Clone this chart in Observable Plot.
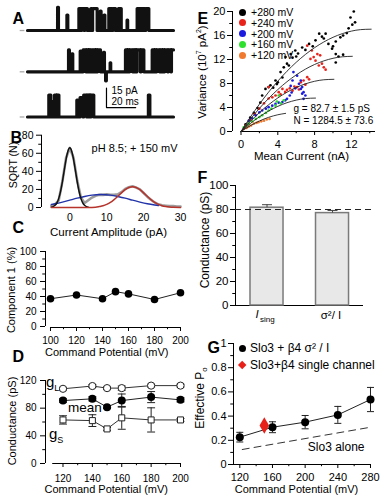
<!DOCTYPE html>
<html><head><meta charset="utf-8">
<script src="https://cdn.jsdelivr.net/npm/d3@7"></script>
<script src="https://cdn.jsdelivr.net/npm/@observablehq/plot@0.6"></script>
<style>
html,body{margin:0;padding:0;background:#fff;}
#fig{position:relative;width:384px;height:500px;overflow:hidden;font-family:'Liberation Sans',Arial,sans-serif;color:#000;}
#fig svg{position:absolute;left:0;top:0;}
.lab{position:absolute;white-space:nowrap;line-height:1;}
.lab sub,.lab sup{line-height:0;}
</style></head><body><div id="fig"></div>
<script>
// ================= DATA =================
// A: single-channel openings [start ms, end ms, level pA]
const trace1Events = [[20.6,21.2,18],[27.0,27.6,12],[35.2,36.6,17],[37.0,38.8,17],[39.2,41.0,17],[41.6,43.0,16],[43.4,44.0,17],[44.6,47.7,17],[49.8,50.4,15],[52.5,53.0,12],[55.7,57.0,17],[57.4,58.0,17],[58.5,60.3,17],[62.3,63.2,17],[63.6,64.2,17],[68.2,68.6,8],[75.1,76.4,17],[76.8,77.5,17],[78.0,79.6,17],[80.0,80.5,17],[81.0,83.1,17]];
const trace2Events = [[28.1,28.7,17],[30.4,31.0,14],[36.1,36.8,16],[38.1,40.0,17],[40.5,41.5,17],[41.9,42.5,17],[43.0,44.5,17],[45.2,46.3,17],[46.7,47.5,17],[48.0,50.0,17],[52.1,52.7,15],[53.5,54.0,-7],[56.6,57.0,7],[67.1,68.2,17],[68.6,69.5,17],[70.0,72.0,17],[72.6,73.5,17],[73.9,74.5,17],[75.0,77.3,17],[77.8,79.7,17],[85.4,86.8,17],[87.2,88.0,17],[88.5,90.5,17],[91.0,92.2,17],[92.6,93.5,17],[94.0,96.0,17],[96.5,98.2,17],[98.6,100,17]];
const trace3Events = [[14.6,16.0,17],[16.5,17.5,12],[18.5,19.8,17],[20.2,21.5,17],[33.8,34.4,13],[36.0,38.0,15],[38.5,40.5,17],[41.0,42.0,17],[42.4,43.0,17],[43.5,45.4,17],[82.8,83.8,17]];
const traceOffsets = [0, -32, -67];
const scaleBar = {t0: 54.1, v0: -59.7, pA: 15, ms: 20};

// B: amplitude histogram and Gaussian fits
const bHistX = [-5,-4,-3,-2,-1,0,1,2,3,4,5,6,7,8,9,10,11,12,13,14,15,16,17,18,19,20,21,22,23,24,25,26,27,28,29,30];
const bHistY = [2,3.5,8,29,55,66,55,30,11,5,8,11,13,14,14,14.5,14,14,14.5,17,20.5,22.5,23.5,22,20,16,12,8.5,5.5,3.5,2.5,2,1.5,1.5,1,1];
const bBlackX = [-5,-4.5,-4,-3.5,-3,-2.5,-2,-1.5,-1,-0.5,0,0.5,1,1.5,2,2.5,3,3.5,4,4.5,5];
const bBlackY = [0.36,0.97,2.4,5.1,10.1,17.9,28.7,41.3,53.6,62.6,66,62.6,53.6,41.3,28.7,17.9,10.1,5.1,2.4,0.97,0.36];
const bBlueX = [-5,-4,-2,0,2,4,6,8.5,11,13,15,17,19,21,23,24];
const bBlueY = [3.3,4.1,6.0,8.1,10.3,12.2,13.7,14.4,13.7,12.2,10.3,8.1,6.0,4.1,2.7,2.1];
const bRedX = [-5,0,5,7,8,9,10,11,12,13,14,15,16,17,18,19,20,21,22,23,24,25,26,27,28,30];
const bRedY = [0,0,0,0.3,1.0,1.9,3.5,5.7,8.8,12.4,16.2,19.7,22.1,23,22.1,19.7,16.2,12.4,8.8,5.7,3.5,1.9,1.0,0.5,0.2,0];

// C: component 1 (%)
const cVolt = [100,120,140,150,160,180,200];
const cComp1 = [37,42,37,46.5,43.5,36,45];

// D: conductances (pS)
const dVolt = [120,140,150,160,180,200];
const dGL = [108,112,109,109,112.6,112.6];
const dGLErr = [2,2,2,3,2,2];
const dMean = [91,93.5,81.5,91,96,92];
const dMeanErr = [2.5,3,2,9.5,8,3];
const dGS = [63,62,50,66,63,63];
const dGSErr = [6,8.5,2,16.5,17.5,2];

// E: variance vs mean current
const eSeries = ["+280 mV","+240 mV","+200 mV","+160 mV","+120 mV"];
const eColors = ["#000000","#e8231c","#1c1ce0","#2fe02f","#f07a30"];
const ePts280 = [[0.5,1.2],[1,2.3],[1.4,3.1],[1.8,3.9],[2.1,4.8],[2.3,6.0],[2.66,7.1],[3.0,7.4],[3.2,7.7],[3.5,7.3],[3.75,8.5],[3.9,7.9],[4.0,8.2],[4.3,9.9],[4.5,9.0],[4.65,10.7],[4.84,12.4],[5.0,11.3],[5.2,11.0],[5.4,12.9],[5.6,12.3],[5.9,13.5],[6.0,12.5],[6.2,13.0],[6.65,14.0],[7.0,13.6],[7.4,14.6],[7.8,14.2],[8.1,15.2],[8.5,16.3],[8.8,15.8],[9.0,15.5],[9.2,16.3],[9.5,14.6],[9.9,13.8],[10.0,14.2],[10.3,12.9],[10.3,11.5],[10.6,12.5],[10.3,15.0],[10.8,15.7],[11.1,12.8],[11.1,16.0],[11.5,16.4],[11.7,17.2],[11.9,19.0],[12.1,17.8],[12.26,20.0],[12.4,18.2]];
const ePts240 = [[0.5,1.0],[1.0,1.9],[1.5,2.9],[2.0,3.8],[2.5,4.7],[3.0,5.5],[3.0,7.4],[3.4,5.7],[3.75,6.0],[4.1,6.55],[4.3,6.2],[4.5,7.1],[4.8,6.6],[5.0,6.95],[5.3,7.2],[5.6,6.8],[5.8,7.5],[6.1,7.4],[6.3,7.0],[6.5,8.2],[6.8,8.5],[7.0,7.8],[7.2,9.05],[7.4,8.7],[7.2,14.3],[7.55,12.1],[7.7,13.5],[7.9,12.4],[8.1,11.8],[8.3,12.9],[8.46,11.0],[8.6,12.7],[8.8,11.3],[9.0,10.7],[9.2,10.3]];
const ePts200 = [[0.4,0.6],[0.85,1.8],[1.2,2.2],[1.6,2.7],[2.0,3.2],[2.3,3.5],[2.7,3.8],[3.0,4.05],[3.4,4.3],[3.75,4.6],[4.1,4.8],[4.5,4.9],[4.8,5.2],[5.0,5.45],[5.3,6.0],[5.4,7.6],[5.5,6.5],[5.6,8.5],[5.7,9.9],[5.9,7.2],[6.1,9.3],[6.3,7.95],[6.5,7.1],[6.5,8.5],[6.65,6.3],[6.65,7.4],[6.8,5.45],[6.8,6.55],[7.0,6.0]];
const ePts160 = [[0.3,0.7],[0.6,1.0],[0.85,1.3],[1.2,1.7],[1.6,2.1],[2.0,2.4],[2.3,2.7],[2.7,3.1],[3.0,3.5],[3.3,3.8],[3.75,4.3],[3.9,5.0],[4.1,6.0],[4.3,4.7],[4.65,5.2]];
const ePts120 = [[0.3,0.4],[0.6,0.6],[0.85,0.83],[1.1,1.0],[1.4,1.3],[1.7,1.45],[1.9,1.55],[2.2,1.7],[2.5,1.8],[2.8,2.0],[3.1,2.1]];
const eFit280 = [[0,0],[1,2.36],[2,4.55],[3,6.56],[4,8.39],[5,10.05],[6,11.53],[7,12.84],[8,13.97],[9,14.92],[10,15.7],[11,16.3],[12,16.73],[13,16.98],[14.15,17.05]];
const eFit240 = [[0,0],[1,2.01],[2,3.85],[3,5.51],[4,6.99],[5,8.3],[6,9.43],[7,10.39],[8,11.17],[9,11.77],[10,12.2],[11,12.45],[12.1,12.53]];
const eFit200 = [[0,0],[1,1.66],[2,3.15],[3,4.46],[4,5.59],[5,6.55],[6,7.33],[7,7.94],[8,8.37],[9,8.62],[10.1,8.7]];
const eFit160 = [[0,0],[1,1.31],[2,2.45],[3,3.41],[4,4.19],[5,4.8],[6,5.23],[7,5.49],[8.1,5.57]];
const eFit120 = [[0,0],[1,0.96],[2,1.75],[3,2.36],[4,2.79],[4.85,3.02]];

// F: conductance estimates
const fCats = ["I_sing","σ²/I"];
const fCond = [81.5, 77.0];
const fCondErr = [2.5, 2.2];
const fRef = 80;

// G: effective Po
const gVolt = [120,160,200,240,280];
const gPo = [0.226,0.308,0.35,0.41,0.537];
const gPoErr = [0.04,0.045,0.055,0.07,0.10];
const gSingleVolt = [150];
const gSinglePo = [0.322];
const gAloneVolt = [123,280];
const gAlonePo = [0.124,0.308];

// ================= HELPERS =================
const FONT = "'Liberation Sans', Arial, sans-serif";
const fig = document.getElementById("fig");
function frame(l, r, t, b, fs) {
  return {width:384, height:500, marginLeft:l, marginRight:384-r, marginTop:t, marginBottom:500-b,
    style:{background:"transparent", fontFamily:FONT, fontSize:fs+"px", color:"#000", overflow:"visible"}};
}
function add(p){ fig.appendChild(p); }
function lab(html, x, y, o={}) {
  const d = document.createElement("div");
  d.className = "lab"; d.innerHTML = html;
  d.style.left = x+"px"; d.style.top = y+"px";
  d.style.fontSize = (o.size||11)+"px";
  if (o.weight) d.style.fontWeight = o.weight;
  if (o.italic) d.style.fontStyle = "italic";
  const tx = o.anchor === "left" ? "0" : "-50%";
  d.style.transform = `translate(${tx},-50%)` + (o.rot ? " rotate(-90deg)" : "");
  fig.appendChild(d);
}
function swatch(x, y, color, shape) {
  const d = document.createElement("div");
  d.style.position = "absolute";
  const s = shape === "diamond" ? 6.4 : 7;
  d.style.width = s+"px"; d.style.height = s+"px"; d.style.background = color;
  d.style.left = (x - s/2)+"px"; d.style.top = (y - s/2)+"px";
  if (shape === "diamond") d.style.transform = "rotate(45deg)"; else d.style.borderRadius = "50%";
  fig.appendChild(d);
}
function yAxes(major, minor, size, pad, fmt) {
  return [
    Plot.axisY({ticks:major, tickSize:size, tickPadding:pad, label:null, anchor:"left", tickFormat: fmt || (d => String(d))}),
    Plot.axisY({ticks:minor, tickSize:size*0.55, label:null, anchor:"left", tickFormat: () => ""})
  ];
}
function xAxes(major, minor, size, pad) {
  return [
    Plot.axisX({ticks:major, tickSize:size, tickPadding:pad, label:null, anchor:"bottom", tickFormat: d => String(d)}),
    Plot.axisX({ticks:minor, tickSize:size*0.55, label:null, anchor:"bottom", tickFormat: () => ""})
  ];
}
function letter(t, dx, dy) {
  return Plot.text([t], {text: d => d, frameAnchor:"top-left", dx, dy, fontSize:16, fontWeight:"bold"});
}
const pts = (xs, ys) => xs.map((x,i)=>({x, y:ys[i]}));
const pairs = a => a.map(([x,y])=>({x,y}));

// ================= PANEL A =================
function stepPoints(events, off, k) {
  const p = [{t:0, v:off, k}];
  for (const [t0,t1,L] of events) {
    p.push({t:t0,v:off,k},{t:t0,v:off+L,k},{t:t1,v:off+L,k});
    if (t1 < 100) p.push({t:t1,v:off,k});
  }
  if (p[p.length-1].t < 100) p.push({t:100, v:off, k});
  return p;
}
const tracePts = [trace1Events, trace2Events, trace3Events].flatMap((ev,k)=>stepPoints(ev, traceOffsets[k], k));
const sb = scaleBar;
add(Plot.plot({...frame(27,173,0,125,10),
  x:{domain:[0,100], axis:null}, y:{domain:[-73.6,23.26], axis:null},
  marks:[
    Plot.ruleY(traceOffsets, {x1:-5, x2:-1.8, stroke:"#aaa", strokeWidth:1.3}),
    Plot.line(tracePts, {x:"t", y:"v", z:"k", stroke:"#111", strokeWidth:3.2}),
    Plot.line([{t:sb.t0,v:sb.v0+sb.pA},{t:sb.t0,v:sb.v0},{t:sb.t0+sb.ms,v:sb.v0}], {x:"t", y:"v", stroke:"#000", strokeWidth:1.2}),
    Plot.text([sb.pA+" pA"], {text:d=>d, x:sb.t0, y:sb.v0+sb.pA, dx:5, dy:2.5, textAnchor:"start", fontSize:10}),
    Plot.text([sb.ms+" ms"], {text:d=>d, x:sb.t0, y:sb.v0, dx:5, dy:-5.5, textAnchor:"start", fontSize:10}),
    letter("A", -15, 12)
  ]}));

// ================= PANEL B =================
const bX0 = -7.67, bX1 = 31.08;
add(Plot.plot({...frame(41,184,134.7,207,10.5),
  x:{domain:[bX0,bX1]}, y:{domain:[0,80]},
  marks:[
    Plot.ruleX([bX0], {y1:0, y2:80, stroke:"#000"}),
    ...yAxes([0,20,40,60,80],[10,30,50,70],5,3),
    Plot.axisX({ticks:[0,10,20,30], tickSize:0, tickPadding:6.5, label:null, tickFormat:d=>String(d)}),
    Plot.line(pts(bHistX,bHistY), {x:"x", y:"y", stroke:"#9c9c9c", strokeWidth:2.6}),
    Plot.line(pts(bBlueX,bBlueY), {x:"x", y:"y", stroke:"#2233aa", strokeWidth:1.4, curve:"natural"}),
    Plot.line(pts(bBlackX,bBlackY), {x:"x", y:"y", stroke:"#111", strokeWidth:1.5, curve:"natural"}),
    Plot.line(pts(bRedX,bRedY), {x:"x", y:"y", stroke:"#b5332b", strokeWidth:1.5, curve:"monotone-x"}),
    Plot.text(["pH 8.5; + 150 mV"], {text:d=>d, frameAnchor:"top-right", textAnchor:"end", dx:-7, dy:9, fontSize:11}),
    Plot.text(["Current Amplitude (pA)"], {text:d=>d, frameAnchor:"bottom", dx:-4.5, dy:28, fontSize:11.5}),
    letter("B", -31, -3.7)
  ]}));
lab('SQRT (N)', 13, 165, {rot:true, size:10.5});

// ================= PANEL C =================
const cX0 = 96.154, cX1 = 201.15, cY0 = -1.333, cY1 = 101.333;
add(Plot.plot({...frame(45,181.5,250,327,10),
  x:{domain:[cX0,cX1]}, y:{domain:[cY0,cY1]},
  marks:[
    Plot.ruleX([cX0], {y1:0, y2:100, stroke:"#000"}),
    Plot.ruleY([cY0], {x1:100, x2:200, stroke:"#000"}),
    ...yAxes([0,20,40,60,80,100],[10,30,50,70,90],5,4),
    ...xAxes([100,120,140,160,180,200],[110,130,150,170,190],4,5),
    Plot.line(pts(cVolt,cComp1), {x:"x", y:"y", stroke:"#222", strokeWidth:1}),
    Plot.dot(pts(cVolt,cComp1), {x:"x", y:"y", r:3.8, fill:"#000"}),
    Plot.text(["Command Potential (mV)"], {text:d=>d, frameAnchor:"bottom", dx:-7, dy:28, fontSize:11}),
    letter("C", -33, -29)
  ]}));
lab('Component 1 (%)', 11, 290, {rot:true, size:11});

// ================= PANEL D =================
const dX0 = 108.09, dX1 = 201.36;
const dRows = (ys, es) => dVolt.map((x,i)=>({x, y:ys[i], e:es[i]}));
const dL = dRows(dGL,dGLErr), dM = dRows(dMean,dMeanErr), dS = dRows(dGS,dGSErr);
const capD = 2.7;
const errMarks = (rows, cap) => [
  Plot.ruleX(rows, {x:"x", y1:d=>d.y-d.e, y2:d=>d.y+d.e, stroke:"#222", strokeWidth:1}),
  Plot.link(rows, {x1:d=>d.x-cap, x2:d=>d.x+cap, y1:d=>d.y+d.e, y2:d=>d.y+d.e, stroke:"#222"}),
  Plot.link(rows, {x1:d=>d.x-cap, x2:d=>d.x+cap, y1:d=>d.y-d.e, y2:d=>d.y-d.e, stroke:"#222"})
];
add(Plot.plot({...frame(45,182,378,463,10),
  x:{domain:[dX0,dX1]}, y:{domain:[0,122.9]},
  marks:[
    Plot.ruleX([dX0], {y1:0, y2:120, stroke:"#000"}),
    Plot.ruleY([0], {x1:113, x2:200, stroke:"#000"}),
    ...yAxes([0,40,80,120],[20,60,100],5,4),
    ...xAxes([120,140,160,180,200],[130,150,170,190],4,7),
    Plot.line(dL, {x:"x", y:"y", stroke:"#333", strokeWidth:1}),
    Plot.line(dM, {x:"x", y:"y", stroke:"#222", strokeWidth:1}),
    Plot.line(dS, {x:"x", y:"y", stroke:"#333", strokeWidth:1}),
    ...errMarks(dL, capD), ...errMarks(dM, capD), ...errMarks(dS, capD),
    Plot.dot(dL, {x:"x", y:"y", r:3.6, fill:"#fff", stroke:"#222", strokeWidth:1}),
    Plot.dot(dS, {x:"x", y:"y", r:3.4, symbol:"square", fill:"#fff", stroke:"#222", strokeWidth:1}),
    Plot.dot(dM, {x:"x", y:"y", r:4, fill:"#000"}),
    Plot.text(["Command Potential (mV)"], {text:d=>d, frameAnchor:"bottom", dx:-7.7, dy:29.5, fontSize:11}),
    letter("D", -33, -28)
  ]}));
lab('Conductance (pS)', 12, 421, {rot:true, size:11});
lab('g<sub style="font-size:9px">L</sub>', 46, 381, {anchor:"left", size:15});
lab('mean', 68, 408, {anchor:"left", size:13.5});
lab('g<sub style="font-size:9px">S</sub>', 49, 433, {anchor:"left", size:15});

// ================= PANEL E =================
const eX0 = -0.924, eX1 = 14.62;
const eAll = [ePts280, ePts240, ePts200, ePts160, ePts120];
const eFits = [eFit280, eFit240, eFit200, eFit160, eFit120];
add(Plot.plot({...frame(232,375,11,131,11),
  x:{domain:[eX0,eX1]}, y:{domain:[0,20]},
  marks:[
    Plot.ruleX([eX0], {y1:0, y2:20, stroke:"#000"}),
    Plot.ruleY([0], {x1:0, x2:eX1, stroke:"#000"}),
    ...yAxes([0,4,8,12,16,20],[2,6,10,14,18],5,2),
    ...xAxes([0,4,8,12],[2,6,10,14],4,5),
    ...eAll.map((s,i)=>Plot.dot(pairs(s), {x:"x", y:"y", r:1.35, fill:eColors[i]})),
    ...eFits.map(f=>Plot.line(pairs(f), {x:"x", y:"y", stroke:"#222", strokeWidth:0.9, curve:"natural"})),
    Plot.text(["g = 82.7 ± 1.5 pS"], {text:d=>d, frameAnchor:"bottom-left", textAnchor:"start", dx:61, dy:-19.3, fontSize:10}),
    Plot.text(["N = 1284.5 ± 73.6"], {text:d=>d, frameAnchor:"bottom-left", textAnchor:"start", dx:61, dy:-7.7, fontSize:10}),
    Plot.text(["Mean Current (nA)"], {text:d=>d, frameAnchor:"bottom", dx:-2.5, dy:28.5, fontSize:11.5}),
    letter("E", -35, 1)
  ]}));
eSeries.forEach((s,i)=>{ const y = 12 + i*10.75; swatch(242, y, eColors[i], "circle"); lab(s, 251, y, {anchor:"left", size:10.5}); });
lab('Variance (10<sup style="font-size:7px">7</sup> pA<sup style="font-size:7px">2</sup>)', 203, 72, {rot:true, size:11.5});

// ================= PANEL F =================
const fX0 = 0.519, fX1 = 2.656;
const fData = fCats.map((c,i)=>({c, i:i+1, v:fCond[i], e:fCondErr[i]}));
add(Plot.plot({...frame(235,375,185,305,11.5),
  x:{domain:[fX0,fX1], axis:null}, y:{domain:[0,100]},
  marks:[
    Plot.ruleX([fX0], {y1:0, y2:100, stroke:"#000"}),
    Plot.ruleY([0], {x1:fX0, x2:2.473, stroke:"#000"}),
    ...yAxes([0,20,40,60,80,100],[10,30,50,70,90],5,2),
    Plot.rectY(fData, {x1:d=>d.i-0.252, x2:d=>d.i+0.252, y1:0, y2:"v", fill:"#e8e8e8", stroke:"#7a7a7a", strokeWidth:1.5}),
    Plot.ruleX(fData, {x:"i", y1:"v", y2:d=>d.v+d.e, stroke:"#444"}),
    Plot.link(fData, {x1:d=>d.i-0.076, x2:d=>d.i+0.076, y1:d=>d.v+d.e, y2:d=>d.v+d.e, stroke:"#444"}),
    Plot.ruleY([fRef], {stroke:"#222", strokeDasharray:"6,4", strokeWidth:1}),
    letter("F", -38, -14)
  ]}));
lab('Conductance (pS)', 205, 240, {rot:true, size:12});
lab('I', 257, 315, {size:11.5, italic:true});
lab('sing', 260, 320, {anchor:"left", size:8});
lab('σ²/ I', 331, 316, {size:11.5});

// ================= PANEL G =================
const gX0 = 112.29, gX1 = 282.45;
const gRows = gVolt.map((x,i)=>({x, y:gPo[i], e:gPoErr[i]}));
add(Plot.plot({...frame(233,372,343,464,11),
  x:{domain:[gX0,gX1]}, y:{domain:[0,1]},
  marks:[
    Plot.ruleX([gX0], {y1:0, y2:1, stroke:"#000"}),
    Plot.ruleY([0], {x1:gX0, x2:281, stroke:"#000"}),
    ...yAxes([0,0.2,0.4,0.6,0.8,1],[0.1,0.3,0.5,0.7,0.9],5,2),
    ...xAxes([120,160,200,240,280],[140,180,220,260],4,5),
    Plot.line(pts(gAloneVolt,gAlonePo), {x:"x", y:"y", stroke:"#333", strokeWidth:1, strokeDasharray:"7,5"}),
    Plot.line(gRows, {x:"x", y:"y", stroke:"#222", strokeWidth:1}),
    ...errMarks(gRows, 4.3),
    Plot.dot(gRows, {x:"x", y:"y", r:4, fill:"#000"}),
    Plot.dot(pts(gSingleVolt,gSinglePo), {x:"x", y:"y", r:5, symbol:"diamond", fill:"#e8201a"}),
    Plot.text(["Slo3 alone"], {text:d=>d, frameAnchor:"bottom-right", textAnchor:"end", dx:-8, dy:-14, fontSize:12}),
    Plot.text(["Command Potential (mV)"], {text:d=>d, frameAnchor:"bottom", dx:-6.5, dy:28, fontSize:11}),
    letter("G", -26, -2)
  ]}));
swatch(242, 348, "#000", "circle");
lab('Slo3 + β4 σ² / I', 250, 348, {anchor:"left", size:12});
swatch(242, 365, "#e8201a", "diamond");
lab('Slo3+β4 single channel', 250, 365, {anchor:"left", size:12});
lab('Effective P<sub style="font-size:8px">o</sub>', 200, 398, {rot:true, size:12});
</script></body></html>
